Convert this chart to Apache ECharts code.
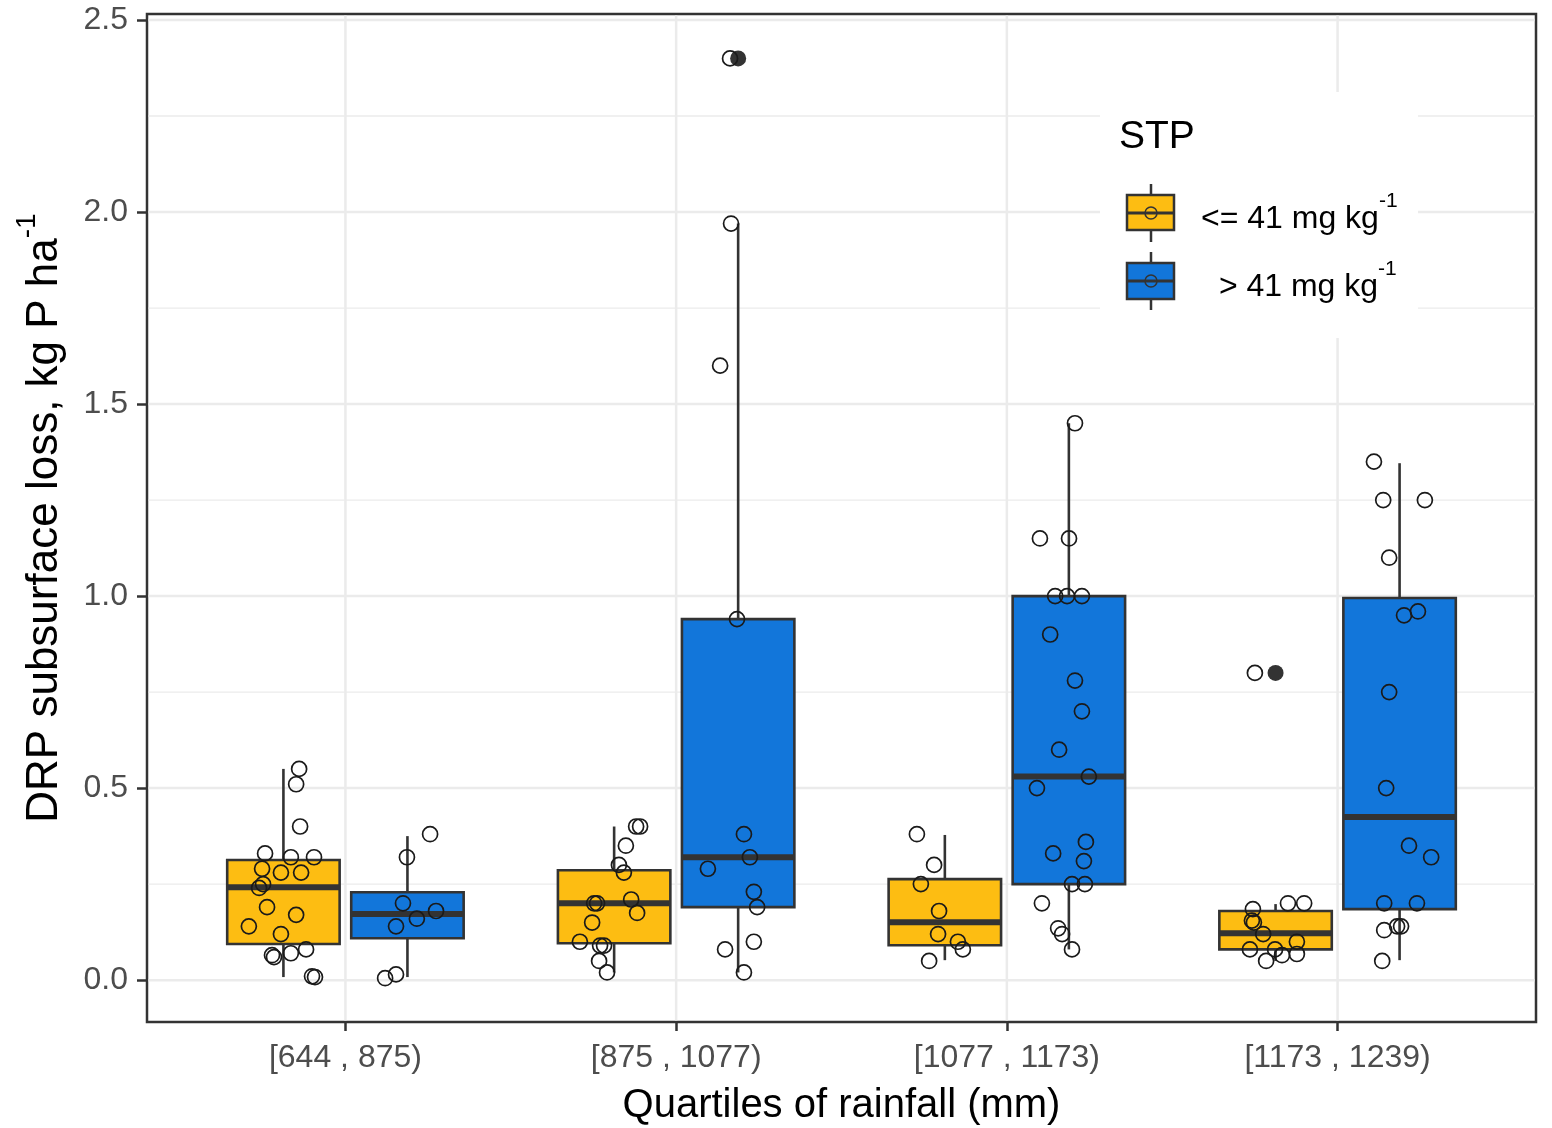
<!DOCTYPE html>
<html>
<head>
<meta charset="utf-8">
<script src="https://cdn.jsdelivr.net/npm/echarts@6/dist/echarts.min.js"></script>
<style>
html,body{margin:0;padding:0;background:#fff;}
#c{width:1552px;height:1128px;}
</style>
</head>
<body>
<div id="c"></div>
<script>
// ---------- data ----------
const categories = ['[644 , 875)', '[875 , 1077)', '[1077 , 1173)', '[1173 , 1239)'];
const categoryPositions = [1, 2, 3, 4];
const legendTitle = 'STP';
const groupLabels = ['<= 41 mg kg', ' > 41 mg kg'];
const yTicks = [0, 0.5, 1.0, 1.5, 2.0, 2.5];
const yMinorTicks = [0.25, 0.75, 1.25, 1.75, 2.25];

// box statistics per category: [min, Q1, median, Q3, max]
const boxLow = [
  [0.008, 0.094, 0.242, 0.313, 0.55],
  [0.02, 0.096, 0.20, 0.286, 0.40],
  [0.052, 0.091, 0.151, 0.263, 0.378],
  [0.05, 0.08, 0.122, 0.18, 0.198]
];
const boxHigh = [
  [0.008, 0.109, 0.172, 0.229, 0.375],
  [0.02, 0.19, 0.32, 0.94, 1.97],
  [0.08, 0.25, 0.53, 1.0, 1.45],
  [0.052, 0.185, 0.425, 0.995, 1.346]
];
// outliers: [category index, value]
const outliersLow = [[3, 0.80]];
const outliersHigh = [[1, 2.40]];

// jittered observations: [x position on rainfall axis, value]
const pointsLow = [
  [0.860,0.55],[0.851,0.51],[0.863,0.40],[0.757,0.33],[0.835,0.32],[0.905,0.32],[0.748,0.29],
  [0.805,0.28],[0.866,0.28],[0.739,0.24],[0.751,0.25],[0.763,0.19],[0.851,0.17],[0.708,0.14],
  [0.805,0.12],[0.784,0.06],[0.778,0.065],[0.835,0.07],[0.881,0.08],[0.899,0.01],[0.908,0.008],
  [1.879,0.40],[1.891,0.40],[1.848,0.35],[1.827,0.30],[1.842,0.28],[1.761,0.20],[1.752,0.20],
  [1.864,0.21],[1.882,0.175],[1.746,0.15],[1.709,0.10],[1.770,0.09],[1.782,0.09],[1.767,0.05],[1.791,0.02],
  [2.728,0.38],[2.780,0.30],[2.740,0.25],[2.795,0.18],[2.792,0.12],[2.852,0.10],[2.867,0.08],[2.765,0.05],
  [3.744,0.185],[3.741,0.155],[3.747,0.15],[3.775,0.12],[3.850,0.20],[3.899,0.20],[3.735,0.08],
  [3.811,0.08],[3.877,0.10],[3.832,0.065],[3.877,0.068],[3.784,0.05],[3.750,0.80]
];
const pointsHigh = [
  [1.256,0.38],[1.186,0.32],[1.174,0.20],[1.274,0.18],[1.216,0.16],[1.153,0.14],[1.153,0.015],[1.120,0.005],
  [2.163,2.40],[2.166,1.97],[2.133,1.60],[2.184,0.94],[2.205,0.38],[2.223,0.32],[2.096,0.29],
  [2.235,0.23],[2.245,0.19],[2.235,0.10],[2.148,0.08],[2.205,0.02],
  [3.206,1.45],[3.100,1.15],[3.188,1.15],[3.146,1.00],[3.182,1.00],[3.227,1.00],[3.131,0.90],
  [3.206,0.78],[3.227,0.70],[3.158,0.60],[3.248,0.53],[3.091,0.50],[3.239,0.36],[3.140,0.33],
  [3.233,0.31],[3.197,0.25],[3.236,0.25],[3.106,0.20],[3.155,0.135],[3.167,0.12],[3.197,0.08],
  [4.110,1.35],[4.138,1.25],[4.264,1.25],[4.156,1.10],[4.201,0.95],[4.243,0.96],[4.156,0.75],
  [4.147,0.50],[4.216,0.35],[4.283,0.32],[4.141,0.20],[4.240,0.20],[4.141,0.13],[4.180,0.14],
  [4.192,0.14],[4.135,0.05]
];

// ---------- styles / layout ----------
const YELLOW = '#FDBD12';
const BLUE = '#1276DA';
const DARK = '#333333';
const GRIDC = '#EBEBEB';
const DODGE = 0.1875;
const HALF = 0.17;
const FONT = '"Liberation Sans", Arial, sans-serif';

function boxRender(offset, color) {
  return function (params, api) {
    const c = api.value(0) + offset;
    const vmin = api.value(1), q1 = api.value(2), med = api.value(3), q3 = api.value(4), vmax = api.value(5);
    const tl = api.coord([c - HALF, q3]);
    const br = api.coord([c + HALF, q1]);
    const xc = api.coord([c, med])[0];
    const yMed = api.coord([c, med])[1];
    const yMin = api.coord([c, vmin])[1];
    const yMax = api.coord([c, vmax])[1];
    const ls = {stroke: DARK, lineWidth: 2.6};
    return {
      type: 'group',
      children: [
        {type: 'line', shape: {x1: xc, y1: yMax, x2: xc, y2: tl[1]}, style: ls},
        {type: 'line', shape: {x1: xc, y1: br[1], x2: xc, y2: yMin}, style: ls},
        {type: 'rect', shape: {x: tl[0], y: tl[1], width: br[0] - tl[0], height: br[1] - tl[1]},
          style: {fill: color, stroke: DARK, lineWidth: 2.6}},
        {type: 'line', shape: {x1: tl[0], y1: yMed, x2: br[0], y2: yMed}, style: {stroke: DARK, lineWidth: 6}}
      ]
    };
  };
}

function hLineRender(width) {
  return function (params, api) {
    const cs = params.coordSys;
    const y = api.coord([1, api.value(0)])[1];
    return {type: 'line', shape: {x1: cs.x + 1.5, y1: y, x2: cs.x + cs.width - 1.5, y2: y},
      style: {stroke: GRIDC, lineWidth: width}};
  };
}
function vLineRender(params, api) {
  const cs = params.coordSys;
  const x = api.coord([api.value(0), 0])[0];
  return {type: 'line', shape: {x1: x, y1: cs.y + 1.5, x2: x, y2: cs.y + cs.height - 1.5},
    style: {stroke: GRIDC, lineWidth: 2.5}};
}

const chart = echarts.init(document.getElementById('c'), null, {renderer: 'canvas'});

const option = {
  animation: false,
  backgroundColor: '#ffffff',
  grid: {
    left: 147, right: 16, top: 14, bottom: 106,
    containLabel: false, outerBoundsMode: 'none',
    show: true, backgroundColor: '#ffffff', borderColor: DARK, borderWidth: 2.5
  },
  xAxis: {
    type: 'value', min: 0.4, max: 4.6,
    axisLine: {show: false, onZero: false},
    splitLine: {show: false},
    axisTick: {show: true, length: 9, customValues: categoryPositions, lineStyle: {color: DARK, width: 2.5}},
    axisLabel: {
      customValues: categoryPositions, margin: 20,
      formatter: v => categories[Math.round(v) - 1],
      color: '#4D4D4D', fontSize: 32, fontFamily: FONT
    },
    name: 'Quartiles of rainfall (mm)', nameLocation: 'middle', nameGap: 64,
    nameTextStyle: {color: '#000', fontSize: 40, fontFamily: FONT}
  },
  yAxis: {
    type: 'value', min: -0.109, max: 2.5156,
    axisLine: {show: false, onZero: false},
    splitLine: {show: false},
    axisTick: {show: true, length: 10, customValues: yTicks, lineStyle: {color: DARK, width: 2.5}},
    axisLabel: {
      customValues: yTicks, margin: 19,
      formatter: v => v.toFixed(1),
      color: '#4D4D4D', fontSize: 32, fontFamily: FONT
    },
    name: '{t|DRP subsurface loss, kg P ha}{s|-1}', nameLocation: 'middle', nameRotate: 90, nameGap: 80,
    nameTextStyle: {
      color: '#000', fontFamily: FONT,
      rich: {
        t: {fontSize: 44, fontFamily: FONT, color: '#000', verticalAlign: 'bottom', lineHeight: 54},
        s: {fontSize: 28, fontFamily: FONT, color: '#000', verticalAlign: 'top', lineHeight: 28}
      }
    }
  },
  series: [
    {type: 'custom', name: 'gridMinor', z: 1, silent: true, renderItem: hLineRender(1.3),
      encode: {y: 0}, data: yMinorTicks.map(v => [v])},
    {type: 'custom', name: 'gridMajorH', z: 1, silent: true, renderItem: hLineRender(2.5),
      encode: {y: 0}, data: yTicks.map(v => [v])},
    {type: 'custom', name: 'gridMajorV', z: 1, silent: true, renderItem: vLineRender,
      encode: {x: 0}, data: categoryPositions.map(v => [v])},
    {type: 'custom', name: 'boxLow', z: 2, renderItem: boxRender(-DODGE, YELLOW),
      dimensions: ['cat', 'min', 'q1', 'med', 'q3', 'max'],
      encode: {x: 0, y: [1, 2, 3, 4, 5]},
      data: boxLow.map((s, i) => [categoryPositions[i]].concat(s))},
    {type: 'custom', name: 'boxHigh', z: 2, renderItem: boxRender(DODGE, BLUE),
      dimensions: ['cat', 'min', 'q1', 'med', 'q3', 'max'],
      encode: {x: 0, y: [1, 2, 3, 4, 5]},
      data: boxHigh.map((s, i) => [categoryPositions[i]].concat(s))},
    {type: 'scatter', name: 'outLow', z: 3, symbol: 'circle', symbolSize: 16,
      itemStyle: {color: DARK, opacity: 1},
      data: outliersLow.map(([ci, v]) => [categoryPositions[ci] - DODGE, v])},
    {type: 'scatter', name: 'outHigh', z: 3, symbol: 'circle', symbolSize: 16,
      itemStyle: {color: DARK, opacity: 1},
      data: outliersHigh.map(([ci, v]) => [categoryPositions[ci] + DODGE, v])},
    {type: 'scatter', name: 'ptsLow', z: 4, symbol: 'circle', symbolSize: 15,
      itemStyle: {color: 'rgba(0,0,0,0)', borderColor: '#1a1a1a', borderWidth: 1.7, opacity: 1},
      data: pointsLow},
    {type: 'scatter', name: 'ptsHigh', z: 4, symbol: 'circle', symbolSize: 15,
      itemStyle: {color: 'rgba(0,0,0,0)', borderColor: '#1a1a1a', borderWidth: 1.7, opacity: 1},
      data: pointsHigh}
  ],
  graphic: {
    elements: [
      {type: 'rect', z: 100, shape: {x: 1100, y: 92, width: 318, height: 246}, style: {fill: '#fff'}},
      {type: 'text', z: 101, x: 1119, y: 137,
        style: {text: legendTitle, fill: '#000', font: '39px ' + FONT, textVerticalAlign: 'middle'}},
      // key 1
      {type: 'line', z: 101, shape: {x1: 1151, y1: 184, x2: 1151, y2: 242}, style: {stroke: DARK, lineWidth: 2.5}},
      {type: 'rect', z: 102, shape: {x: 1127, y: 195, width: 47, height: 35}, style: {fill: YELLOW, stroke: DARK, lineWidth: 2.5}},
      {type: 'line', z: 103, shape: {x1: 1127, y1: 213, x2: 1174, y2: 213}, style: {stroke: DARK, lineWidth: 3}},
      {type: 'circle', z: 104, shape: {cx: 1151, cy: 213, r: 6}, style: {fill: 'none', stroke: DARK, lineWidth: 1.5}},
      // key 2
      {type: 'line', z: 101, shape: {x1: 1151, y1: 252, x2: 1151, y2: 310}, style: {stroke: DARK, lineWidth: 2.5}},
      {type: 'rect', z: 102, shape: {x: 1127, y: 263, width: 47, height: 36}, style: {fill: BLUE, stroke: DARK, lineWidth: 2.5}},
      {type: 'line', z: 103, shape: {x1: 1127, y1: 281, x2: 1174, y2: 281}, style: {stroke: DARK, lineWidth: 3}},
      {type: 'circle', z: 104, shape: {cx: 1151, cy: 281, r: 6}, style: {fill: 'none', stroke: DARK, lineWidth: 1.5}},
      {type: 'text', z: 101, x: 1201, y: 213,
        style: {text: '{t|' + groupLabels[0] + '}{s|-1}', textVerticalAlign: 'middle',
          rich: {t: {fontSize: 32, fontFamily: FONT, fill: '#000', color: '#000', lineHeight: 44, verticalAlign: 'bottom'},
                 s: {fontSize: 21, fontFamily: FONT, fill: '#000', color: '#000', lineHeight: 22, verticalAlign: 'top'}}}},
      {type: 'text', z: 101, x: 1210, y: 281,
        style: {text: '{t|' + groupLabels[1] + '}{s|-1}', textVerticalAlign: 'middle',
          rich: {t: {fontSize: 32, fontFamily: FONT, fill: '#000', color: '#000', lineHeight: 44, verticalAlign: 'bottom'},
                 s: {fontSize: 21, fontFamily: FONT, fill: '#000', color: '#000', lineHeight: 22, verticalAlign: 'top'}}}}
    ]
  }
};
chart.setOption(option);
</script>
</body>
</html>
